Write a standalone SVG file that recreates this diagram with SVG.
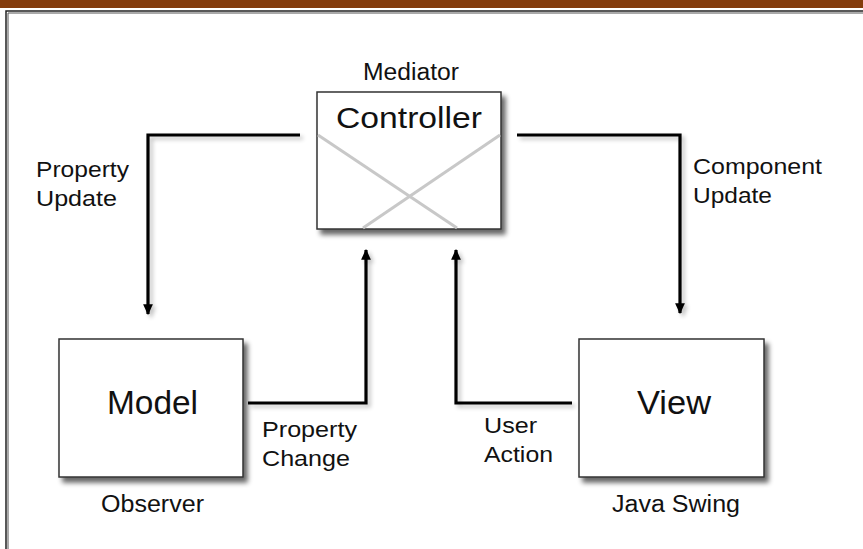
<svg xmlns="http://www.w3.org/2000/svg" width="863" height="549" viewBox="0 0 863 549">
  <style>
    text { font-family: "Liberation Sans", Arial, sans-serif; fill: #111; }
    .title { font-size: 33px; }
    .label { font-size: 22px; }
    .caption { font-size: 23.5px; }
    .box { fill: #fff; stroke: #333; stroke-width: 1.5; }
    .wire { fill: none; stroke: #000; stroke-width: 3.2; }
    .cross { stroke: #c8c8c8; stroke-width: 3; }
  </style>
  <defs>
    <filter id="shadow" x="-10%" y="-10%" width="130%" height="130%">
      <feGaussianBlur in="SourceAlpha" stdDeviation="2.5"/>
      <feOffset dx="4" dy="5" result="b"/>
      <feComponentTransfer><feFuncA type="linear" slope="0.6"/></feComponentTransfer>
      <feMerge><feMergeNode/><feMergeNode in="SourceGraphic"/></feMerge>
    </filter>
    <filter id="wireShadow" x="-20%" y="-20%" width="140%" height="140%">
      <feGaussianBlur in="SourceAlpha" stdDeviation="2"/>
      <feOffset dx="3" dy="3"/>
      <feComponentTransfer><feFuncA type="linear" slope="0.25"/></feComponentTransfer>
      <feMerge><feMergeNode/><feMergeNode in="SourceGraphic"/></feMerge>
    </filter>
    <marker id="arrow" viewBox="0 0 10 10" refX="9" refY="5" markerWidth="3.4" markerHeight="3.4" orient="auto" markerUnits="strokeWidth">
      <path d="M0,0.5 L10,5 L0,9.5 Z" fill="#000"/>
    </marker>
  </defs>

  <!-- page background, header bar and frame -->
  <rect x="0" y="0" width="863" height="549" fill="#fff"/>
  <rect x="0" y="0" width="863" height="8" fill="#843c0c"/>
  <path d="M6,549 V11 H863" fill="none" stroke="#222" stroke-width="1.5"/>
  <path d="M8,549 V13 H863" fill="none" stroke="#555" stroke-width="1"/>

  <!-- connectors -->
  <g id="connectors" filter="url(#wireShadow)">
    <path class="wire" d="M300,135 H148 V314" marker-end="url(#arrow)"/>
    <path class="wire" d="M517,135 H680 V313" marker-end="url(#arrow)"/>
    <path class="wire" d="M248,403 H366 V250" marker-end="url(#arrow)"/>
    <path class="wire" d="M572,403 H456 V250" marker-end="url(#arrow)"/>
  </g>

  <!-- Controller -->
  <g id="controller">
    <rect class="box" x="317" y="92" width="184" height="137" filter="url(#shadow)"/>
    <line class="cross" x1="318" y1="135" x2="457" y2="228"/>
    <line class="cross" x1="500" y1="135" x2="363" y2="228"/>
    <text x="336" y="128" style="font-size:29px" textLength="146" lengthAdjust="spacingAndGlyphs">Controller</text>
    <text x="363" y="80" style="font-size:23px" textLength="96" lengthAdjust="spacingAndGlyphs">Mediator</text>
  </g>

  <!-- Model -->
  <g id="model">
    <rect class="box" x="59" y="339" width="184" height="138" filter="url(#shadow)"/>
    <text class="title" x="107" y="414" textLength="91" lengthAdjust="spacingAndGlyphs">Model</text>
    <text class="caption" x="101" y="512" textLength="103" lengthAdjust="spacingAndGlyphs">Observer</text>
  </g>

  <!-- View -->
  <g id="view">
    <rect class="box" x="579" y="339" width="185" height="138" filter="url(#shadow)"/>
    <text class="title" x="637" y="414" textLength="74" lengthAdjust="spacingAndGlyphs">View</text>
    <text class="caption" x="612" y="512" textLength="128" lengthAdjust="spacingAndGlyphs">Java Swing</text>
  </g>

  <!-- connector labels -->
  <g id="labels">
    <text class="label" x="36" y="177" textLength="93" lengthAdjust="spacingAndGlyphs">Property</text>
    <text class="label" x="36" y="206" textLength="81" lengthAdjust="spacingAndGlyphs">Update</text>
    <text class="label" x="693" y="174" textLength="129" lengthAdjust="spacingAndGlyphs">Component</text>
    <text class="label" x="693" y="203" textLength="79" lengthAdjust="spacingAndGlyphs">Update</text>
    <text class="label" x="262" y="437" textLength="95" lengthAdjust="spacingAndGlyphs">Property</text>
    <text class="label" x="262" y="466" textLength="88" lengthAdjust="spacingAndGlyphs">Change</text>
    <text class="label" x="484" y="433" textLength="53" lengthAdjust="spacingAndGlyphs">User</text>
    <text class="label" x="484" y="462" textLength="69" lengthAdjust="spacingAndGlyphs">Action</text>
  </g>
</svg>
